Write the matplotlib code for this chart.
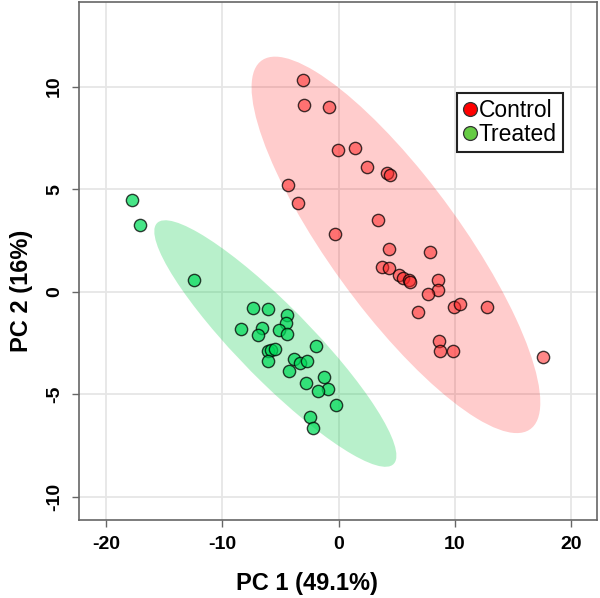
import numpy as np
import matplotlib
matplotlib.use("Agg")
import matplotlib.pyplot as plt
from matplotlib.patches import Ellipse
from matplotlib.lines import Line2D

plt.rcParams['font.family'] = ['Liberation Sans', 'DejaVu Sans']
plt.rcParams['axes.unicode_minus'] = False

# PCA scores
control_pc1 = [-3.09, -3.00, -0.86, -0.09, 1.40, 2.40, 4.15, 4.40, -4.33, -3.52,
               3.35, -0.34, 4.29, 7.81, 3.69, 4.29, 5.18, 5.55, 6.03, 6.12,
               8.58, 8.55, 7.64, 9.90, 10.39, 12.73, 6.83, 8.64, 8.73, 9.79, 17.54]
control_pc2 = [10.32, 9.08, 8.98, 6.92, 6.99, 6.06, 5.77, 5.70, 5.22, 4.31,
               3.49, 2.81, 2.08, 1.95, 1.20, 1.17, 0.83, 0.68, 0.57, 0.49,
               0.57, 0.08, -0.13, -0.73, -0.60, -0.75, -0.97, -2.39, -2.89, -2.89, -3.20]
treated_pc1 = [-17.74, -17.03, -12.42, -7.36, -6.07, -4.46, -4.49, -8.36, -6.58, -5.15,
               -4.41, -6.90, -1.92, -6.10, -5.78, -5.49, -6.10, -3.86, -3.32, -2.69,
               -4.24, -1.29, -2.78, -0.94, -1.75, -0.21, -2.46, -2.23]
treated_pc2 = [4.47, 3.23, 0.57, -0.81, -0.86, -1.14, -1.51, -1.80, -1.79, -1.87,
               -2.06, -2.11, -2.65, -2.91, -2.84, -2.79, -3.39, -3.30, -3.49, -3.39,
               -3.85, -4.17, -4.47, -4.74, -4.84, -5.54, -6.09, -6.63]

group_names = ["Control", "Treated"]
x_ticks = [-20, -10, 0, 10, 20]
y_ticks = [-10, -5, 0, 5, 10]


def conf_ellipse(x, y, color):
    # 95% normal-theory ellipse from the sample covariance
    pts = np.column_stack([x, y])
    mean = pts.mean(axis=0)
    cov = np.cov(pts, rowvar=False)
    vals, vecs = np.linalg.eigh(cov)
    order = vals.argsort()[::-1]
    vals, vecs = vals[order], vecs[:, order]
    k = np.sqrt(-2 * np.log(0.05))
    angle = np.degrees(np.arctan2(vecs[1, 0], vecs[0, 0]))
    return Ellipse(mean, 2 * k * np.sqrt(vals[0]), 2 * k * np.sqrt(vals[1]),
                   angle=angle, facecolor=color, edgecolor='none', zorder=1)


fig = plt.figure(figsize=(6.0, 5.98), dpi=100)
ax = fig.add_axes([0.1317, 0.1304, 0.8633, 0.8663])

ax.add_patch(conf_ellipse(control_pc1, control_pc2, (1.0, 0.0, 0.0, 0.2)))
ax.add_patch(conf_ellipse(treated_pc1, treated_pc2, (0.0, 0.8, 0.27, 0.28)))

ax.scatter(control_pc1, control_pc2, s=78, facecolor=(1.0, 0.15, 0.15, 0.55),
           edgecolor=(0, 0, 0, 0.75), linewidth=1.0, zorder=3)
ax.scatter(treated_pc1, treated_pc2, s=78, facecolor=(0.0, 0.86, 0.35, 0.72),
           edgecolor=(0, 0, 0, 0.75), linewidth=1.0, zorder=3)

ax.set_xlim(-22.3, 22.2)
ax.set_ylim(-11.13, 14.12)
ax.set_xticks(x_ticks)
ax.set_yticks(y_ticks)
ax.grid(True, color='#e6e6e6', linewidth=1.3)
ax.set_axisbelow(True)

for sp in ax.spines.values():
    sp.set_color('#666666')
    sp.set_linewidth(1.2)
ax.tick_params(length=5, width=1.0, color='#666666', pad=6.5, labelsize=14)
for lab in ax.get_xticklabels() + ax.get_yticklabels():
    lab.set_fontweight('bold')
for lab in ax.get_yticklabels():
    lab.set_rotation(90)
    lab.set_va('center')

ax.set_xlabel("PC 1 (49.1%)", fontsize=17, fontweight='bold')
ax.set_ylabel("PC 2 (16%)", fontsize=17, fontweight='bold')
ax.xaxis.set_label_coords(0.44, -0.10)
ax.yaxis.set_label_coords(-0.089, 0.442)

handles = [Line2D([], [], marker='o', linestyle='none', markersize=10,
                  markerfacecolor=c, markeredgecolor='#333333', markeredgewidth=0.9)
           for c in ['#ff0000', '#66cc44']]
leg = ax.legend(handles, group_names, loc='upper left', bbox_to_anchor=(0.73, 0.824),
                borderaxespad=0, fontsize=16.5, handlelength=0.6, handletextpad=0.1,
                borderpad=0.25, labelspacing=0.05, fancybox=False, framealpha=1)
leg.get_frame().set_edgecolor('#222222')
leg.get_frame().set_linewidth(1.5)

fig.savefig("out.png", dpi=100)
